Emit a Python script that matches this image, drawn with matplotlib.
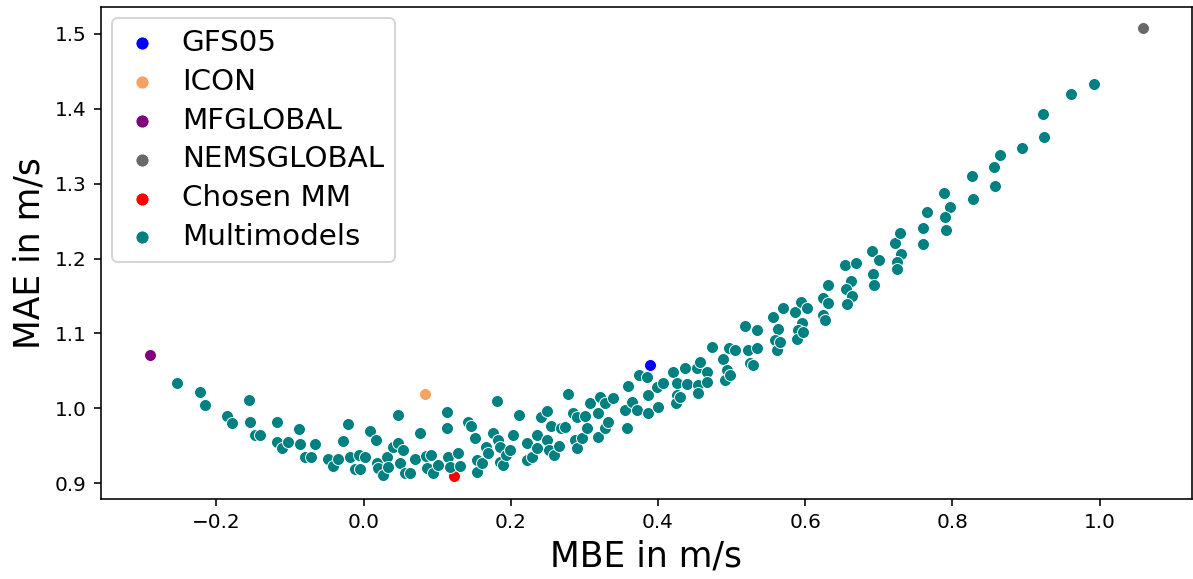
import matplotlib
matplotlib.use("Agg")
import matplotlib.pyplot as plt

# Single models
gfs_x, gfs_y = [0.389], [1.058]
icon_x, icon_y = [0.084], [1.019]
mf_x, mf_y = [-0.290], [1.071]
nems_x, nems_y = [1.059], [1.5075]
chosen_x, chosen_y = [0.123], [0.910]

# Multimodels
mm_x = [
    -0.253, -0.2226, -0.2154, -0.1552, -0.1855, -0.1783, -0.1542, -0.1474, -0.1406, -0.1179,
    -0.1171, -0.1103, -0.1030, -0.0872, -0.0863, -0.0795, -0.0717, -0.0659, -0.0486, -0.0418,
    -0.0346, -0.0283, -0.0207, -0.0183, -0.0115, -0.0048, -0.0057, 0.0020, 0.0088, 0.0170,
    0.0179, 0.0201, 0.0261, 0.0315, 0.0337, 0.0397, 0.0473, 0.0541, 0.0465, 0.0496,
    0.0564, 0.0632, 0.0700, 0.0768, 0.0849, 0.0913, 0.0867, 0.0940, 0.1008, 0.1139,
    0.1139, 0.1152, 0.1175, 0.1288, 0.1311, 0.1424, 0.1457, 0.1515, 0.1546, 0.1538,
    0.1606, 0.1660, 0.1696, 0.1755, 0.1810, 0.1832, 0.1855, 0.1855, 0.1899, 0.1932,
    0.1990, 0.2035, 0.2117, 0.2217, 0.2217, 0.2285, 0.2353, 0.2353, 0.2412, 0.2489,
    0.2497, 0.2524, 0.2588, 0.2543, 0.2660, 0.2679, 0.2738, 0.2783, 0.2851, 0.2905,
    0.2874, 0.2897, 0.2965, 0.3033, 0.3010, 0.3190, 0.3077, 0.3213, 0.3281, 0.3394,
    0.3190, 0.3281, 0.3326, 0.3553, 0.3576, 0.3598, 0.3644, 0.3712, 0.3747, 0.3848,
    0.3870, 0.3870, 0.3984, 0.4065, 0.4005, 0.4209, 0.4368, 0.4255, 0.4264, 0.4246,
    0.4300, 0.4391, 0.4527, 0.4572, 0.4663, 0.4549, 0.4549, 0.4663, 0.4731, 0.4889,
    0.4935, 0.4912, 0.4980, 0.4970, 0.5048, 0.5183, 0.5342, 0.5228, 0.5251, 0.5342,
    0.5296, 0.5560, 0.5704, 0.5636, 0.5591, 0.5614, 0.5659, 0.5863, 0.5940, 0.6022,
    0.5954, 0.5908, 0.5886, 0.5976, 0.6247, 0.6315, 0.6247, 0.6270, 0.6315, 0.6542,
    0.6692, 0.6624, 0.6556, 0.6633, 0.6573, 0.6913, 0.7004, 0.6927, 0.6940, 0.7221,
    0.7289, 0.7303, 0.7245, 0.7253, 0.7598, 0.7660, 0.7606, 0.7891, 0.7969, 0.7905,
    0.7914, 0.8268, 0.8277, 0.8567, 0.8644, 0.8580, 0.8943, 0.9236, 0.9250, 0.9613,
    0.9921,
]
mm_y = [
    1.034, 1.0223, 1.0041, 1.0112, 0.9899, 0.9809, 0.9822, 0.9645, 0.9645, 0.9822,
    0.9547, 0.9467, 0.9555, 0.9729, 0.9529, 0.9355, 0.9355, 0.9521, 0.9324, 0.9231,
    0.9324, 0.9569, 0.9796, 0.9351, 0.9187, 0.9187, 0.9378, 0.9347, 0.9702, 0.9578,
    0.9267, 0.9200, 0.9111, 0.9355, 0.9222, 0.9481, 0.9534, 0.9445, 0.9908, 0.9275,
    0.9134, 0.9142, 0.9328, 0.9672, 0.9364, 0.9378, 0.9200, 0.9134, 0.9244, 0.9952,
    0.9734, 0.9355, 0.9222, 0.9401, 0.9231, 0.9822, 0.9765, 0.9609, 0.9311, 0.9155,
    0.9267, 0.9489, 0.9401, 0.9676, 1.0103, 0.9578, 0.9489, 0.9288, 0.9244, 0.9378,
    0.9445, 0.9645, 0.9916, 0.9542, 0.9311, 0.9355, 0.9645, 0.9467, 0.9889, 0.9969,
    0.9578, 0.9445, 0.9378, 0.9765, 0.9498, 0.9734, 0.9756, 1.0192, 0.9935, 0.9889,
    0.9578, 0.9467, 0.9601, 0.9734, 0.9899, 0.9622, 1.0068, 1.0156, 1.0068, 1.0135,
    0.9935, 0.9734, 0.9822, 0.9979, 0.9734, 1.0303, 1.0089, 0.9979, 1.0446, 1.0423,
    1.0179, 0.9935, 1.0290, 1.0343, 1.0023, 1.0490, 1.0535, 1.0335, 1.0179, 1.0068,
    1.0156, 1.0326, 1.0535, 1.0624, 1.0490, 1.0312, 1.0202, 1.0356, 1.0824, 1.0656,
    1.0513, 1.0379, 1.0446, 1.0802, 1.0780, 1.1100, 1.1047, 1.0780, 1.0602, 1.0802,
    1.0579, 1.1224, 1.1336, 1.1056, 1.0913, 1.0780, 1.0891, 1.1291, 1.1425, 1.1336,
    1.1136, 1.1047, 1.0923, 1.1024, 1.1470, 1.1403, 1.1247, 1.1180, 1.1648, 1.1915,
    1.1937, 1.1701, 1.1590, 1.1501, 1.1394, 1.2106, 1.1981, 1.1794, 1.1648, 1.2204,
    1.2338, 1.2061, 1.1959, 1.1857, 1.2413, 1.2626, 1.2195, 1.2880, 1.2693, 1.2555,
    1.2382, 1.3107, 1.2800, 1.3219, 1.3383, 1.2973, 1.3481, 1.3935, 1.3624, 1.4194,
    1.4327,
]

fig = plt.figure(figsize=(1193 / 144, 579 / 144), dpi=144)
ax = fig.add_axes([0.0844, 0.1382, 0.9992 - 0.0844, 0.9884 - 0.1382])

kw = dict(s=36, edgecolors="white", linewidths=0.48)
ax.scatter(gfs_x, gfs_y, color="blue", label="GFS05", **kw)
ax.scatter(icon_x, icon_y, color="sandybrown", label="ICON", **kw)
ax.scatter(mf_x, mf_y, color="purple", label="MFGLOBAL", **kw)
ax.scatter(nems_x, nems_y, color="dimgray", label="NEMSGLOBAL", **kw)
ax.scatter(chosen_x, chosen_y, color="red", label="Chosen MM", **kw)
ax.scatter(mm_x, mm_y, color="teal", label="Multimodels", **kw)

ax.set_xlim(-0.3571, 1.1257)
ax.set_ylim(0.879, 1.5363)
ax.set_xticks([-0.2, 0.0, 0.2, 0.4, 0.6, 0.8, 1.0])
ax.set_yticks([0.9, 1.0, 1.1, 1.2, 1.3, 1.4, 1.5])
ax.tick_params(labelsize=10)
ax.set_xlabel("MBE in m/s", fontsize=17.28)
ax.set_ylabel("MAE in m/s", fontsize=17.28)
ax.legend(loc="upper left", fontsize=14.7, borderpad=0.37, labelspacing=0.37,
          borderaxespad=0.38, handlelength=1.28, handletextpad=0.73,
          markerscale=1.1)

fig.savefig("out.png", dpi=144)
